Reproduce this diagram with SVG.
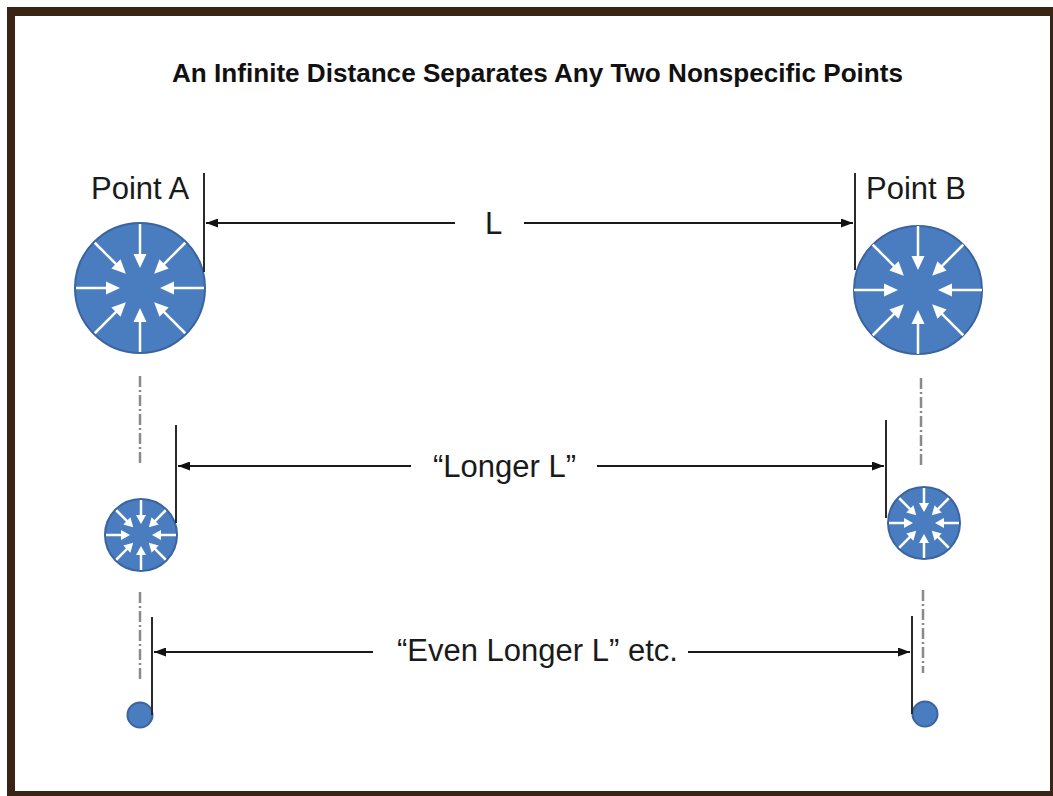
<svg xmlns="http://www.w3.org/2000/svg" xmlns:xlink="http://www.w3.org/1999/xlink" width="1053" height="796" viewBox="0 0 1053 796">
<style>
.lbl{font-family:"Liberation Sans",Arial,sans-serif;font-size:31px;fill:#1a1a1a}
.ttl{font-family:"Liberation Sans",Arial,sans-serif;font-size:25px;font-weight:bold;fill:#111}
.dim{stroke:#1a1a1a;stroke-width:2;fill:none}
.ext{stroke:#2a2a2a;stroke-width:2;fill:none}
.cl{stroke:#8a8a8a;stroke-width:2.5;fill:none;stroke-dasharray:11 3 2 3}
.ball{fill:#4a7cc0;stroke:#3a64a0;stroke-width:2}
.wa{stroke:#fff;stroke-width:2.5;fill:none}
.wh{fill:#fff}
</style>
<defs>
<marker id="ah" markerUnits="userSpaceOnUse" markerWidth="13" markerHeight="9" refX="12" refY="4.5" orient="auto">
<path d="M0,0 L12,4.5 L0,9 z" fill="#111"/>
</marker>
<g id="wArrow">
<line class="wa" x1="0" y1="-64" x2="0" y2="-31"/>
<polygon class="wh" points="0,-20 -6.5,-34 6.5,-34"/>
</g>
<g id="ring8">
<use xlink:href="#wArrow" transform="rotate(0)"/>
<use xlink:href="#wArrow" transform="rotate(45)"/>
<use xlink:href="#wArrow" transform="rotate(90)"/>
<use xlink:href="#wArrow" transform="rotate(135)"/>
<use xlink:href="#wArrow" transform="rotate(180)"/>
<use xlink:href="#wArrow" transform="rotate(225)"/>
<use xlink:href="#wArrow" transform="rotate(270)"/>
<use xlink:href="#wArrow" transform="rotate(315)"/>
</g>
<g id="wArrowS">
<line class="wa" x1="0" y1="-35" x2="0" y2="-18"/>
<polygon class="wh" points="0,-11 -5,-20 5,-20"/>
</g>
<g id="ring8s">
<use xlink:href="#wArrowS" transform="rotate(0)"/>
<use xlink:href="#wArrowS" transform="rotate(45)"/>
<use xlink:href="#wArrowS" transform="rotate(90)"/>
<use xlink:href="#wArrowS" transform="rotate(135)"/>
<use xlink:href="#wArrowS" transform="rotate(180)"/>
<use xlink:href="#wArrowS" transform="rotate(225)"/>
<use xlink:href="#wArrowS" transform="rotate(270)"/>
<use xlink:href="#wArrowS" transform="rotate(315)"/>
</g>
</defs>
<rect x="0" y="0" width="1053" height="796" fill="#3a2416"/>
<rect x="0" y="0" width="7" height="796" fill="#ffffff"/>
<rect x="0" y="0" width="1053" height="7" fill="#ffffff"/>
<rect x="15" y="16" width="1035" height="775" fill="#ffffff"/>
<g id="title"><text class="ttl" x="172" y="82" textLength="731" lengthAdjust="spacingAndGlyphs">An Infinite Distance Separates Any Two Nonspecific Points</text></g>
<g id="pointA">
<text class="lbl" x="91" y="199">Point A</text>
<circle class="ball" cx="140" cy="288" r="65"/>
<use xlink:href="#ring8" transform="translate(140,288)"/>
</g>
<g id="pointB">
<text class="lbl" x="866" y="199">Point B</text>
<circle class="ball" cx="918" cy="290" r="64"/>
<use xlink:href="#ring8" transform="translate(918,290)"/>
</g>
<g id="midA">
<circle class="ball" cx="141" cy="535" r="36"/>
<use xlink:href="#ring8s" transform="translate(141,535)"/>
</g>
<g id="midB">
<circle class="ball" cx="924" cy="523" r="36"/>
<use xlink:href="#ring8s" transform="translate(924,523)"/>
</g>
<g id="smallA"><circle class="ball" cx="140" cy="715" r="12.5"/></g>
<g id="smallB"><circle class="ball" cx="925" cy="714" r="12.5"/></g>
<g id="labels">
<text class="lbl" x="485" y="234">L</text>
<text class="lbl" x="433" y="477">“Longer L”</text>
<text class="lbl" x="397" y="661">“Even Longer L” etc.</text>
</g>
<g id="connectors">
<line class="ext" x1="204" y1="173" x2="204" y2="272"/>
<line class="ext" x1="855" y1="173" x2="855" y2="270"/>
<line class="dim" x1="455" y1="223" x2="206" y2="223" marker-end="url(#ah)"/>
<line class="dim" x1="524" y1="223" x2="853" y2="223" marker-end="url(#ah)"/>
<line class="cl" x1="140" y1="376" x2="140" y2="466"/>
<line class="cl" x1="921" y1="378" x2="921" y2="467"/>
<line class="ext" x1="176" y1="425" x2="176" y2="523"/>
<line class="ext" x1="886" y1="420" x2="886" y2="518"/>
<line class="dim" x1="411" y1="466" x2="178" y2="466" marker-end="url(#ah)"/>
<line class="dim" x1="597" y1="466" x2="884" y2="466" marker-end="url(#ah)"/>
<line class="cl" x1="140" y1="592" x2="140" y2="680"/>
<line class="cl" x1="923" y1="590" x2="923" y2="673"/>
<line class="ext" x1="152" y1="617" x2="152" y2="715"/>
<line class="ext" x1="912" y1="616" x2="912" y2="714"/>
<line class="dim" x1="373" y1="652" x2="154" y2="652" marker-end="url(#ah)"/>
<line class="dim" x1="688" y1="652" x2="910" y2="652" marker-end="url(#ah)"/>
</g>
</svg>
